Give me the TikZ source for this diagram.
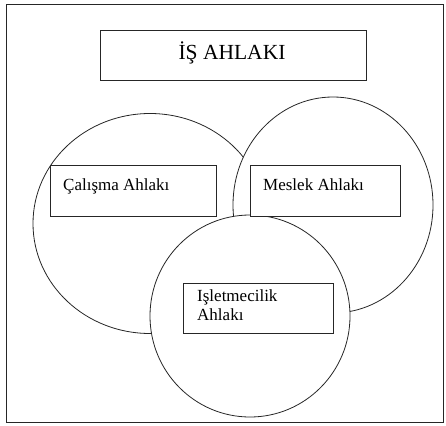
\documentclass[tikz,border=0pt]{standalone}
\usepackage{fontspec}
\setmainfont{Liberation Serif}
\begin{document}
\begin{tikzpicture}[x=1pt,y=-1pt,
  frame/.style={draw=black!85, line width=0.8pt},
  boxshape/.style={frame, fill=white, rectangle, inner sep=0pt},
  blob/.style={frame, fill=white},
  bodytext/.style={inner sep=0pt, font=\fontsize{17}{20}\selectfont, align=left},
  titletext/.style={inner sep=0pt, font=\fontsize{21.5}{24}\selectfont}]
\useasboundingbox (0,0) rectangle (446,425);
\draw[frame] (6,4) rectangle (443,422);
% title
\node[boxshape, minimum width=266pt, minimum height=50pt] (titlebox) at (233.7,55.7) {};
\node[titletext, anchor=base] (title) at (232,60) {İŞ AHLAKI};
% circles
\draw[blob] (150,223.5) ellipse [x radius=117, y radius=110];
\draw[blob] (333,205) ellipse [x radius=100, y radius=108];
\draw[blob] (250,316) ellipse [x radius=100, y radius=101];
% boxes
\node[boxshape, minimum width=166pt, minimum height=51pt] (calbox) at (133.7,190.5) {};
\node[bodytext, anchor=base west] (caltext) at (63,190) {Çalışma Ahlakı};
\node[boxshape, minimum width=150pt, minimum height=51pt] (mesbox) at (325,190.5) {};
\node[bodytext, anchor=base west] (mestext) at (263,190) {Meslek Ahlakı};
\node[boxshape, minimum width=150pt, minimum height=50pt] (isbox) at (258,308) {};
\node[bodytext, anchor=north west, text depth=0pt] (istext) at (197,289) {Işletmecilik\\Ahlakı};
\end{tikzpicture}
\end{document}
